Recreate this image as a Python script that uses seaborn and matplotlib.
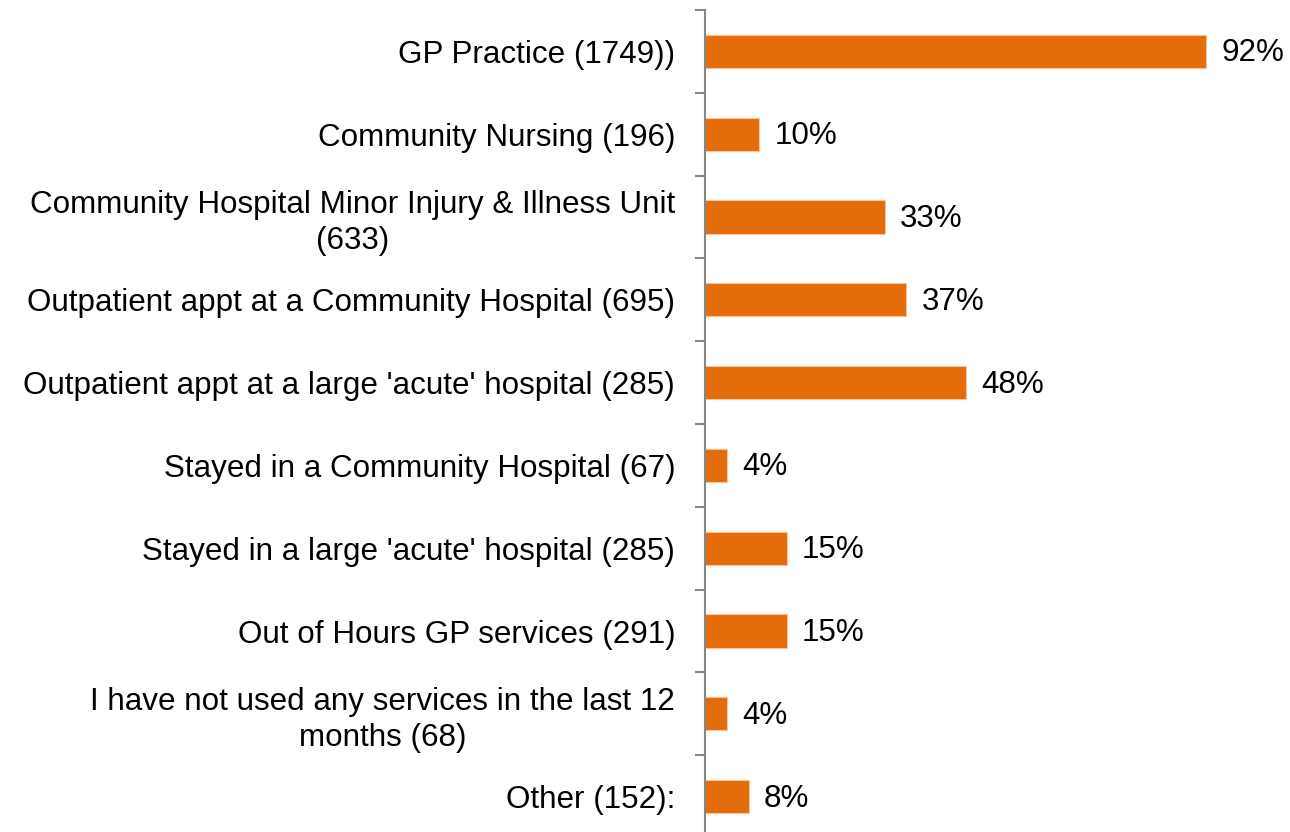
import matplotlib
matplotlib.use("Agg")
import matplotlib.pyplot as plt
import seaborn as sns
import pandas as pd
import numpy as np

categories = [
    "GP Practice (1749))",
    "Community Nursing (196)",
    "Community Hospital Minor Injury & Illness Unit\n(633)",
    "Outpatient appt at a Community Hospital (695)",
    "Outpatient appt at a large 'acute' hospital (285)",
    "Stayed in a Community Hospital (67)",
    "Stayed in a large 'acute' hospital (285)",
    "Out of Hours GP services (291)",
    "I have not used any services in the last 12\nmonths (68)",
    "Other (152):",
]
values = [92, 10, 33, 37, 48, 4, 15, 15, 4, 8]
value_labels = ["92%", "10%", "33%", "37%", "48%", "4%", "15%", "15%", "4%", "8%"]

sns.set_style("white")
plt.rcParams['font.family'] = ['Liberation Sans', 'DejaVu Sans']

df = pd.DataFrame({"cat": categories, "val": values})

FS = 22.6
W, H = 1290, 832
fig = plt.figure(figsize=(W / 100, H / 100), dpi=100)
ax_left = 705 / W
ax_top = 1 - 10 / H
ax_bottom = -6 / H
ax = fig.add_axes([ax_left, ax_bottom, 1 - ax_left, ax_top - ax_bottom])

sns.barplot(data=df, y="cat", x="val", orient="h", color="#E46C0A",
            width=0.4, edgecolor="#F8C49A", linewidth=0.8, saturation=1, ax=ax)

px_per_unit = 501 / 92
ax.set_xlim(0, (W - 705) / px_per_unit)
ax.set_ylim(len(categories) - 0.5, -0.5)

for i, (v, lab) in enumerate(zip(values, value_labels)):
    ax.annotate(lab, xy=(v, i), xytext=(11.0, -1.5), textcoords="offset points",
                ha="left", va="center", fontsize=FS, color="black")

ax.set_xlabel("")
ax.set_ylabel("")
ax.set_xticks([])
for s in ["top", "right", "bottom"]:
    ax.spines[s].set_visible(False)
ax.spines["left"].set_color("#868686")
ax.spines["left"].set_linewidth(1.5)

ax.set_yticks(np.arange(len(categories)))
ax.set_yticklabels(categories, fontsize=FS, color="black")
for t in ax.get_yticklabels():
    t.set_multialignment("center")
    t.set_linespacing(1.25)
ax.tick_params(axis="y", which="major", length=0, pad=21.5)
ax.set_yticks(np.arange(len(categories) + 1) - 0.5, minor=True)
ax.tick_params(axis="y", which="minor", length=7, width=1.5, color="#868686", left=True)

fig.savefig("out.png", dpi=100)
